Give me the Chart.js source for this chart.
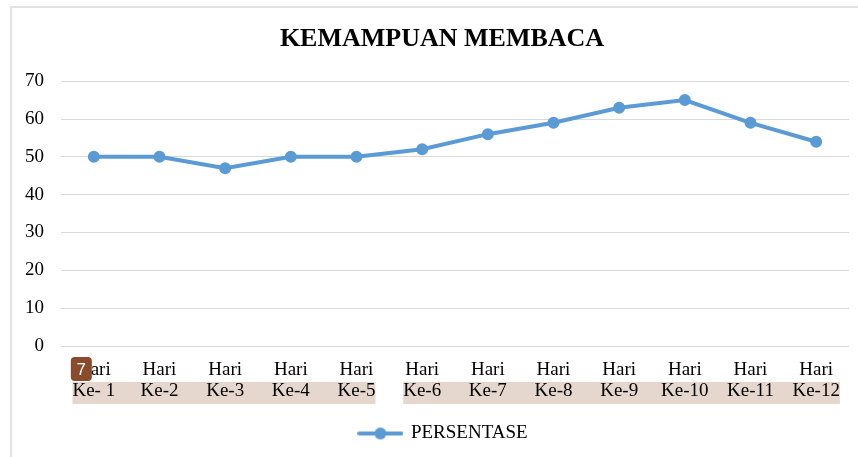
<!DOCTYPE html>
<html><head><meta charset="utf-8">
<script src="https://cdn.jsdelivr.net/npm/chart.js@4"></script>
<style>html,body{margin:0;padding:0;background:#fff}#wrap{width:858px;height:457px;position:relative}</style>
</head><body><div id="wrap"><canvas id="c" width="858" height="457"></canvas></div>
<script>
const chartTitle = 'KEMAMPUAN MEMBACA';
const seriesName = 'PERSENTASE';
const dayWord = 'Hari';
const dayNumbers = ['Ke- 1','Ke-2','Ke-3','Ke-4','Ke-5','Ke-6','Ke-7','Ke-8','Ke-9','Ke-10','Ke-11','Ke-12'];
const persentase = [50, 50, 47, 50, 50, 52, 56, 59, 63, 65, 59, 54];
const yMin = 0, yMax = 70, yStep = 10;
const highlightGroups = [[0, 4], [5, 11]];
const badgeText = '7';

const categories = dayNumbers.map(d => [dayWord, d]);
const BLUE = '#5b9bd5';
const SERIF = "'Liberation Serif', 'Times New Roman', serif";

// legend symbol: line with marker
const legendSym = document.createElement('canvas');
legendSym.width = 46; legendSym.height = 14;
(function(){
  const g = legendSym.getContext('2d');
  g.strokeStyle = BLUE; g.lineWidth = 4; g.lineCap = 'round';
  g.beginPath(); g.moveTo(2, 7); g.lineTo(44, 7); g.stroke();
  g.fillStyle = BLUE; g.beginPath(); g.arc(23, 7, 6, 0, Math.PI * 2); g.fill();
})();

const decor = {
  id: 'decor',
  afterLayout(chart) {
    // centre title and legend the way the reference does (shifted right)
    if (chart.titleBlock) chart.titleBlock.left += 23;
    if (chart.legend) chart.legend.left += 26;
  },
  beforeDraw(chart) {
    const ctx = chart.ctx, xs = chart.scales.x, ca = chart.chartArea;
    ctx.save();
    ctx.fillStyle = '#e2e2e2';
    ctx.fillRect(10, 6, 848, 2);
    ctx.fillRect(10, 6, 2, 451);
    ctx.font = '19px ' + SERIF;
    ctx.fillStyle = '#e5d7cd';
    highlightGroups.forEach(([a, b]) => {
      const wa = ctx.measureText(dayNumbers[a]).width;
      const wb = ctx.measureText(dayNumbers[b]).width;
      const x0 = xs.getPixelForTick(a) - wa / 2;
      const x1 = xs.getPixelForTick(b) + wb / 2;
      ctx.fillRect(x0, ca.bottom + 36, x1 - x0, 22);
    });
    ctx.restore();
  },
  afterDraw(chart) {
    const ctx = chart.ctx, xs = chart.scales.x, ca = chart.chartArea;
    const x = xs.getPixelForTick(0) - 23, y = ca.bottom + 11;
    ctx.save();
    ctx.fillStyle = '#8a4a2c';
    ctx.beginPath();
    ctx.roundRect(x, y, 21, 24, 4);
    ctx.fill();
    ctx.fillStyle = '#fff';
    ctx.font = "17px 'Liberation Sans', Arial, sans-serif";
    ctx.textAlign = 'center'; ctx.textBaseline = 'middle';
    ctx.fillText(badgeText, x + 10.5, y + 13);
    ctx.restore();
  }
};

new Chart(document.getElementById('c'), {
  type: 'line',
  data: {
    labels: categories,
    datasets: [{
      label: seriesName,
      data: persentase,
      borderColor: BLUE,
      backgroundColor: BLUE,
      borderWidth: 4,
      pointRadius: 5,
      pointBorderWidth: 2,
      pointBackgroundColor: BLUE,
      pointBorderColor: BLUE,
      tension: 0
    }]
  },
  options: {
    responsive: false,
    animation: false,
    layout: { padding: { left: 12, right: 9, top: 0, bottom: 4 } },
    plugins: {
      title: {
        display: true, text: chartTitle, color: '#000',
        font: { family: SERIF, size: 26, weight: 'bold' },
        padding: { top: 24, bottom: 26 }
      },
      legend: {
        position: 'bottom',
        labels: {
          usePointStyle: true, pointStyleWidth: 42, color: '#000', padding: 10,
          font: { family: SERIF, size: 19 },
          generateLabels: () => [{
            text: seriesName, fillStyle: BLUE, strokeStyle: BLUE, lineWidth: 0,
            pointStyle: legendSym, hidden: false, datasetIndex: 0, fontColor: '#000'
          }]
        }
      },
      tooltip: { enabled: false }
    },
    scales: {
      x: {
        offset: true,
        grid: { display: false, drawTicks: false },
        border: { display: false },
        ticks: {
          autoSkip: false, maxRotation: 0, minRotation: 0, padding: 14, color: '#000',
          font: { family: SERIF, size: 19, lineHeight: 1.1 }
        },
        afterFit: s => { s.height = 68; }
      },
      y: {
        min: yMin, max: yMax,
        ticks: { stepSize: yStep, padding: 17, color: '#000', font: { family: SERIF, size: 19 } },
        grid: { color: '#d9d9d9', lineWidth: 1, drawTicks: false },
        border: { display: false },
        afterFit: s => { s.width = 49; }
      }
    }
  },
  plugins: [decor]
});
</script></body></html>
